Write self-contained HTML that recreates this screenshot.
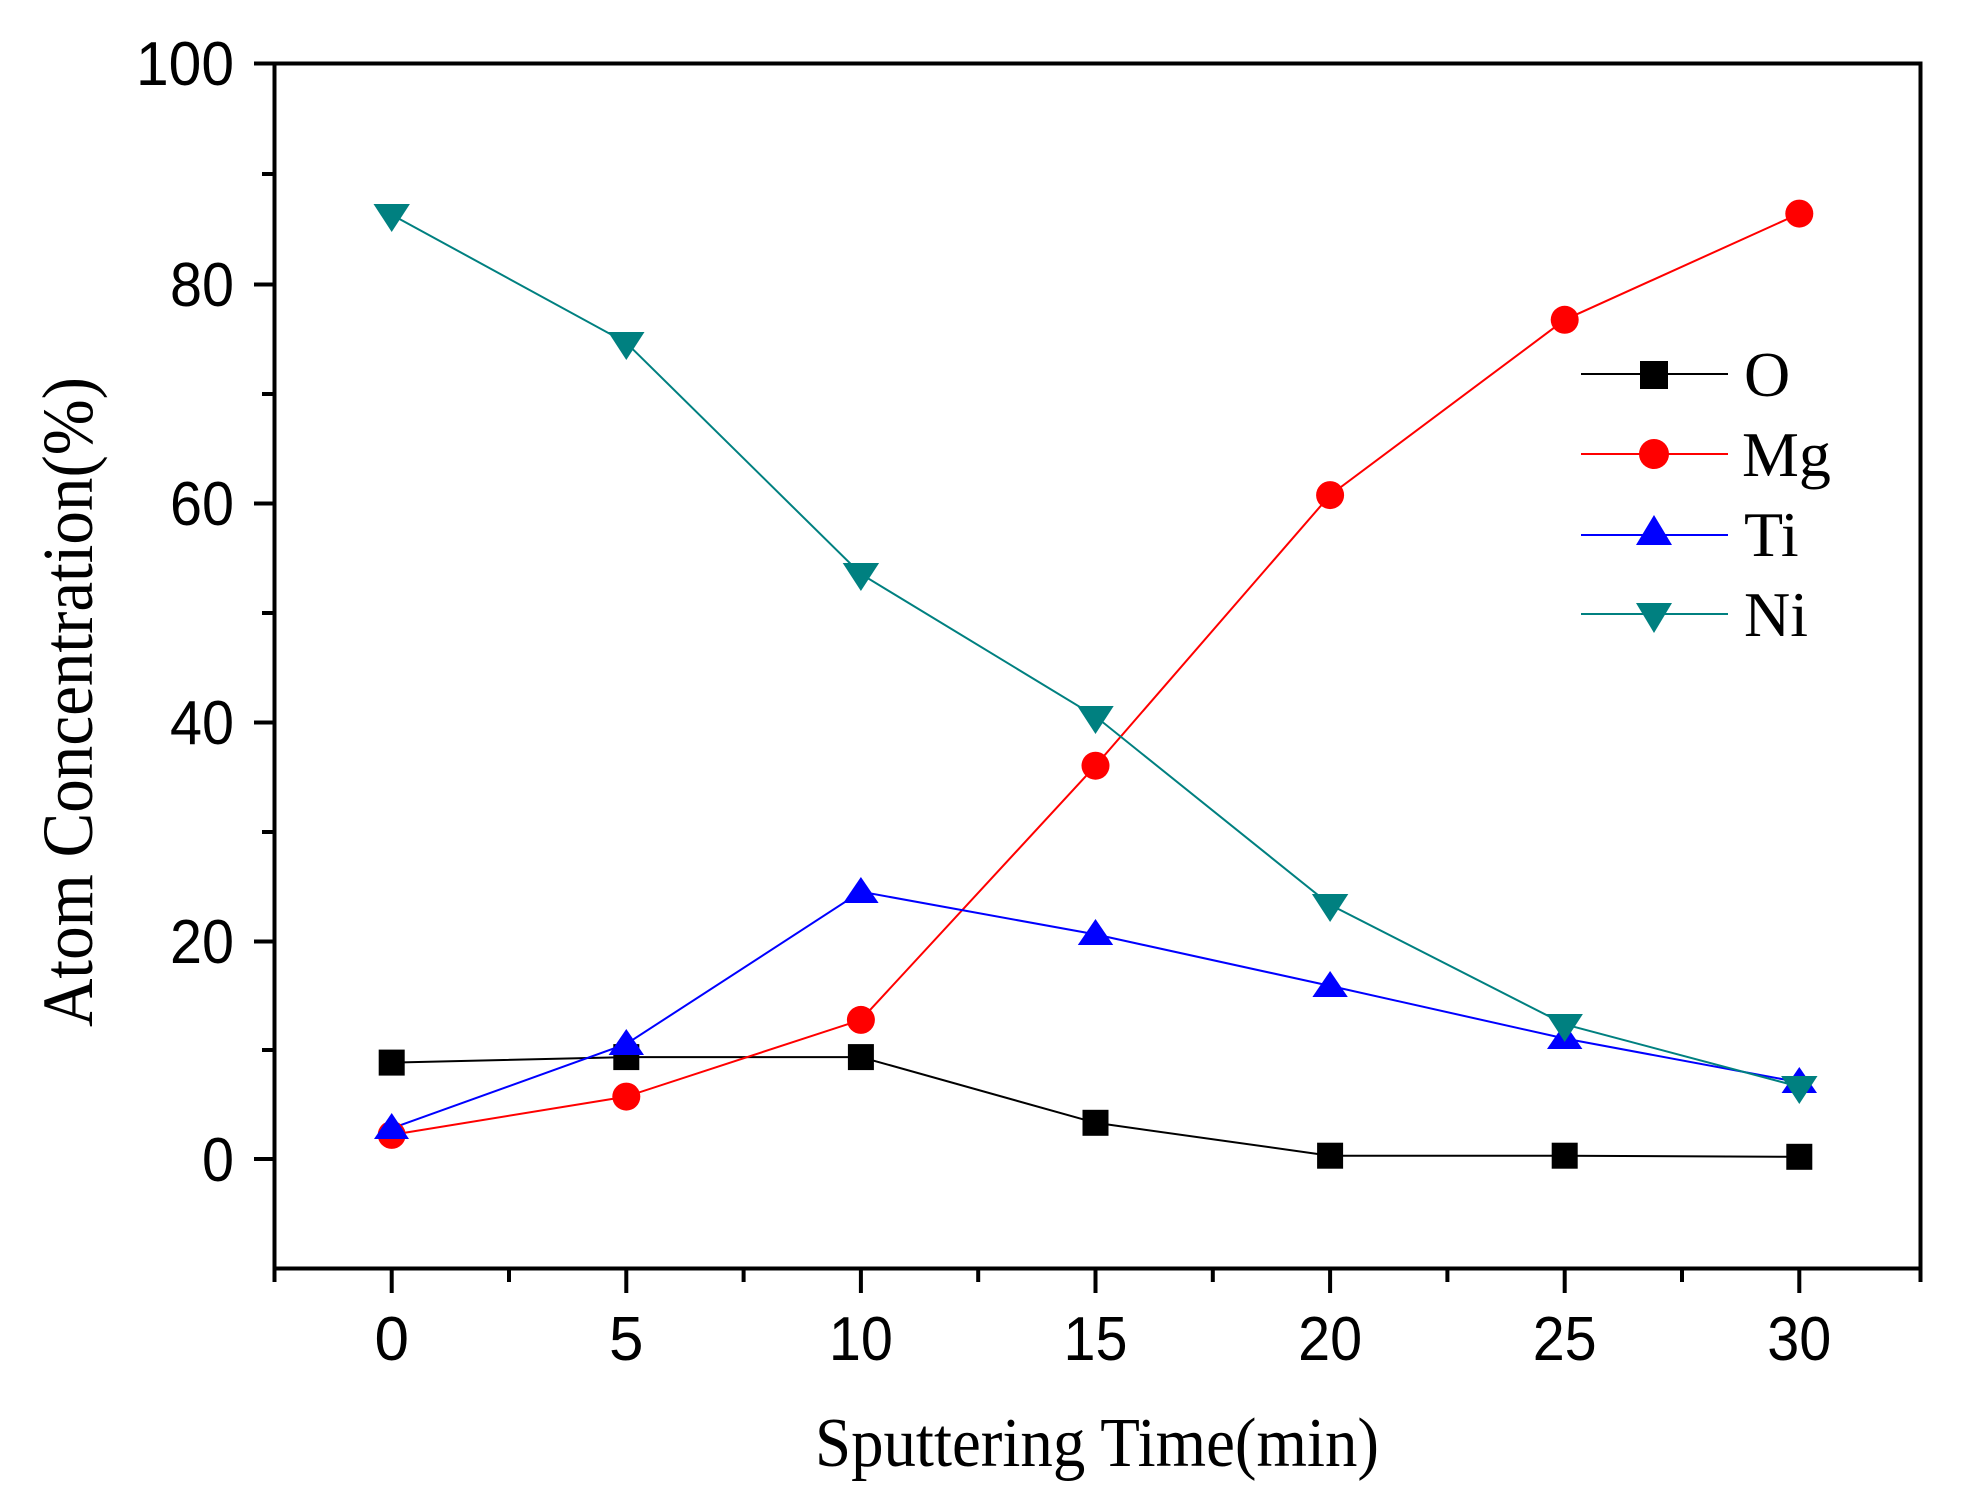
<!DOCTYPE html>
<html><head><meta charset="utf-8"><style>html,body{margin:0;padding:0;background:#fff;}svg{display:block;}</style></head>
<body>
<svg width="1964" height="1502" viewBox="0 0 1964 1502" xmlns="http://www.w3.org/2000/svg">
<rect width="1964" height="1502" fill="#fff"/>
<g stroke="#000" stroke-width="4" fill="none">
<rect x="274.5" y="63.5" width="1646" height="1205"/>
<line x1="254" y1="63.5" x2="274" y2="63.5"/>
<line x1="262" y1="174" x2="274" y2="174"/>
<line x1="254" y1="284.5" x2="274" y2="284.5"/>
<line x1="262" y1="394" x2="274" y2="394"/>
<line x1="254" y1="503.5" x2="274" y2="503.5"/>
<line x1="262" y1="613" x2="274" y2="613"/>
<line x1="254" y1="722.5" x2="274" y2="722.5"/>
<line x1="262" y1="832" x2="274" y2="832"/>
<line x1="254" y1="941.5" x2="274" y2="941.5"/>
<line x1="262" y1="1050" x2="274" y2="1050"/>
<line x1="254" y1="1159" x2="274" y2="1159"/>
<line x1="274.5" y1="1268" x2="274.5" y2="1282"/>
<line x1="391.7" y1="1268" x2="391.7" y2="1293"/>
<line x1="509" y1="1268" x2="509" y2="1282"/>
<line x1="626.3" y1="1268" x2="626.3" y2="1293"/>
<line x1="743.6" y1="1268" x2="743.6" y2="1282"/>
<line x1="860.9" y1="1268" x2="860.9" y2="1293"/>
<line x1="978.2" y1="1268" x2="978.2" y2="1282"/>
<line x1="1095.5" y1="1268" x2="1095.5" y2="1293"/>
<line x1="1212.8" y1="1268" x2="1212.8" y2="1282"/>
<line x1="1330.1" y1="1268" x2="1330.1" y2="1293"/>
<line x1="1447.4" y1="1268" x2="1447.4" y2="1282"/>
<line x1="1564.7" y1="1268" x2="1564.7" y2="1293"/>
<line x1="1682" y1="1268" x2="1682" y2="1282"/>
<line x1="1799.3" y1="1268" x2="1799.3" y2="1293"/>
<line x1="1920.5" y1="1268" x2="1920.5" y2="1282"/>
</g>
<g font-family="Liberation Sans, sans-serif" font-size="62" fill="#000" text-anchor="end">
<text x="234" y="85" textLength="98" lengthAdjust="spacingAndGlyphs">100</text>
<text x="234" y="306" textLength="64" lengthAdjust="spacingAndGlyphs">80</text>
<text x="234" y="525" textLength="64" lengthAdjust="spacingAndGlyphs">60</text>
<text x="234" y="744" textLength="64" lengthAdjust="spacingAndGlyphs">40</text>
<text x="234" y="963" textLength="64" lengthAdjust="spacingAndGlyphs">20</text>
<text x="234" y="1181" textLength="32" lengthAdjust="spacingAndGlyphs">0</text>
</g>
<g font-family="Liberation Sans, sans-serif" font-size="62" fill="#000" text-anchor="middle">
<text x="391.7" y="1360">0</text>
<text x="626.3" y="1360">5</text>
<text x="860.9" y="1360" textLength="64" lengthAdjust="spacingAndGlyphs">10</text>
<text x="1095.5" y="1360" textLength="64" lengthAdjust="spacingAndGlyphs">15</text>
<text x="1330.1" y="1360" textLength="64" lengthAdjust="spacingAndGlyphs">20</text>
<text x="1564.7" y="1360" textLength="64" lengthAdjust="spacingAndGlyphs">25</text>
<text x="1799.3" y="1360" textLength="64" lengthAdjust="spacingAndGlyphs">30</text>
</g>
<text x="1097" y="1466" font-family="Liberation Serif, serif" font-size="70" text-anchor="middle" textLength="564" lengthAdjust="spacingAndGlyphs">Sputtering Time(min)</text>
<text transform="translate(92,702) rotate(-90)" font-family="Liberation Serif, serif" font-size="72" text-anchor="middle" textLength="650" lengthAdjust="spacingAndGlyphs">Atom Concentration(%)</text>
<polyline fill="none" stroke="#000" stroke-width="2" points="391.7,1062.6 626.3,1057.1 860.9,1057.1 1095.5,1122.8 1330.1,1155.7 1564.7,1155.7 1799.3,1156.8"/>
<polyline fill="none" stroke="#ff0000" stroke-width="2" points="391.7,1134.9 626.3,1096.6 860.9,1019.9 1095.5,765.7 1330.1,495.1 1564.7,319.8 1799.3,213.6"/>
<polyline fill="none" stroke="#0000ff" stroke-width="2" points="391.7,1128.3 626.3,1044 860.9,891.7 1095.5,934.4 1330.1,985.9 1564.7,1038.5 1799.3,1082.3"/>
<polyline fill="none" stroke="#008080" stroke-width="2" points="391.7,214.7 626.3,342.8 860.9,574 1095.5,716.4 1330.1,904.8 1564.7,1024.3 1799.3,1086.7"/>
<g fill="#000">
<rect x="378.7" y="1049.6" width="26" height="26"/><rect x="613.3" y="1044.1" width="26" height="26"/><rect x="847.9" y="1044.1" width="26" height="26"/><rect x="1082.5" y="1109.8" width="26" height="26"/><rect x="1317.1" y="1142.7" width="26" height="26"/><rect x="1551.7" y="1142.7" width="26" height="26"/><rect x="1786.3" y="1143.8" width="26" height="26"/>
</g>
<g fill="#ff0000">
<circle cx="391.7" cy="1134.9" r="14"/><circle cx="626.3" cy="1096.6" r="14"/><circle cx="860.9" cy="1019.9" r="14"/><circle cx="1095.5" cy="765.7" r="14"/><circle cx="1330.1" cy="495.1" r="14"/><circle cx="1564.7" cy="319.8" r="14"/><circle cx="1799.3" cy="213.6" r="14"/>
</g>
<g fill="#0000ff">
<polygon points="391.7,1113 374,1139 409,1139"/><polygon points="626.3,1029 608.6,1055 644,1055"/><polygon points="860.9,877 843.2,903 878.6,903"/><polygon points="1095.5,919 1077.8,945 1113.2,945"/><polygon points="1330.1,971 1312.4,997 1347.8,997"/><polygon points="1564.7,1023 1547,1049 1582.4,1049"/><polygon points="1799.3,1067 1781.6,1093 1817,1093"/>
</g>
<g fill="#008080">
<polygon points="373.5,204 409.9,204 391.7,232"/><polygon points="608.1,332 644.5,332 626.3,360"/><polygon points="842.7,563 879.1,563 860.9,591"/><polygon points="1077.3,706 1113.7,706 1095.5,734"/><polygon points="1311.9,894 1348.3,894 1330.1,922"/><polygon points="1546.5,1014 1582.9,1014 1564.7,1042"/><polygon points="1781.1,1076 1817.5,1076 1799.3,1104"/>
</g>
<line x1="1581" y1="374" x2="1728" y2="374" stroke="#000" stroke-width="2"/>
<rect x="1640" y="361" width="28" height="28" fill="#000"/>
<line x1="1581" y1="454" x2="1728" y2="454" stroke="#ff0000" stroke-width="2"/>
<circle cx="1654" cy="454" r="15" fill="#ff0000"/>
<line x1="1581" y1="535" x2="1728" y2="535" stroke="#0000ff" stroke-width="2"/>
<polygon points="1654,515 1636,545 1672,545" fill="#0000ff"/>
<line x1="1581" y1="614" x2="1728" y2="614" stroke="#008080" stroke-width="2"/>
<polygon points="1636,603 1672,603 1654,633" fill="#008080"/>
<g font-family="Liberation Serif, serif" font-size="64" fill="#000">
<text x="1744" y="396">O</text>
<text x="1742" y="476">Mg</text>
<text x="1744" y="556">Ti</text>
<text x="1744" y="636">Ni</text>
</g>
</svg>
</body></html>
